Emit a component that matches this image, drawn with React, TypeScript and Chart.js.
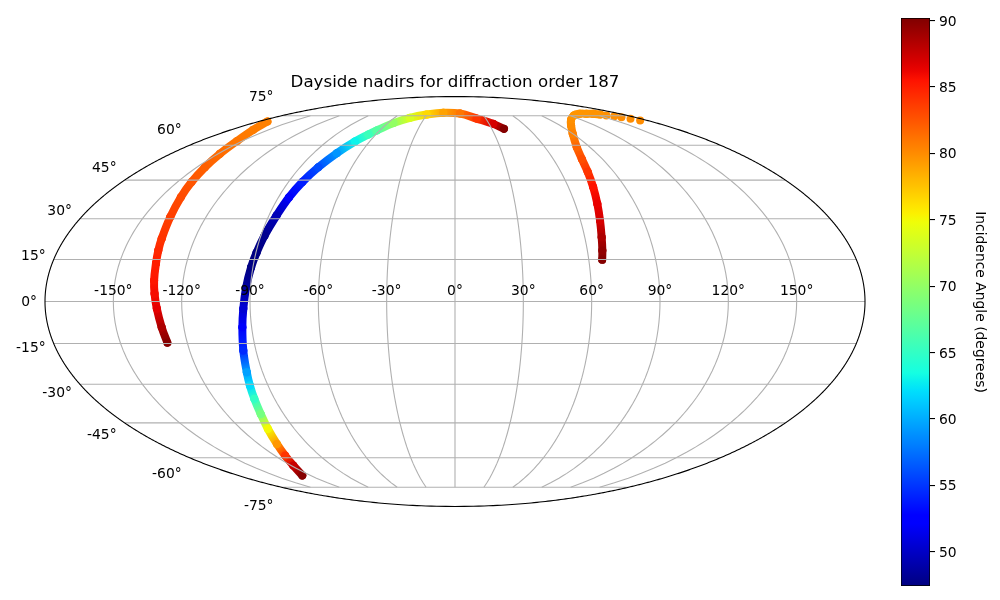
import React, { useEffect, useRef } from "react";
import { Chart, registerables } from "chart.js";

Chart.register(...registerables);

const trackALon = [-128.9,-129.8,-131.0,-132.0,-132.8,-133.6,-134.5,-135.3,-137.2,-139.8,-142.3,-145.3,-148.8,-153.8,-162.1,-172.2];
const trackALat = [-14.7,-9.2,-2.5,2.8,7.5,13.6,18.3,22.6,30.6,38.2,44.2,50.3,56.1,61.9,67.4,71.8];
const trackAAngle = [90,88.5,86.5,85.8,85.3,85,84.5,84,83.5,83,82.5,82,81.5,81,80.7,80.5];

const trackBLon = [-126.8,-118.3,-113.1,-108.7,-104.8,-102.0,-100.1,-98.7,-97.4,-95.7,-94.1,-93.0,-91.9,-90.8,-89.7,-88.3,-86.3,-84.6,-82.5,-79.4,-75.2,-70.2,-65.6,-62.3,-54.9,-44.5,-30.3,-13.1,5.5,21.1,33.7,39.9];
const trackBLat = [-68.6,-63.6,-59.0,-53.8,-47.4,-41.4,-35.5,-30.4,-25.5,-17.5,-9.2,-2.6,5.1,12.2,17.5,23.7,31.2,38.2,44.2,50.3,56.4,61.7,65.1,67.1,70.9,73.8,75.7,76.8,76.3,73.4,70.5,67.9];
const trackBAngle = [90,87.5,84,79.5,75,68.5,65,62,59.5,54.5,52,50.5,48.5,47.6,47.5,48,49.5,52,54,56,59,63,65.5,66.8,70,73.5,76.5,79,81,84,87,90];

const trackCLon = [66.0,66.8,67.8,69.3,71.1,73.1,75.2,77.5,81.2,89.8,99.3,110.0,124.3,136.5,143.8,151.0,155.4];
const trackCLat = [14.9,18.3,23.1,29.3,35.7,42.2,48.4,53.9,59.1,65.4,69.6,72.7,75.2,76.2,76.2,76.2,75.7];
const trackCAngle = [90,89.5,88.5,87,86.3,85.5,84,82.8,81.8,80.5,80,79.8,79.6,79.6,79.6,79.7,79.7];

const tailLon = [158.4,163.2,167.1,170.1,173.0];
const tailLat = [75.2,74.7,74.2,73.3,72.3];
const tailAngle = [79.8,79.9,80,80,80];

const longitudeTicks = [-150,-120,-90,-60,-30,0,30,60,90,120,150];
const latitudeTicks = [-75,-60,-45,-30,-15,0,15,30,45,60,75];
const colorbarTicks = [50,55,60,65,70,75,80,85,90];

const TITLE = "Dayside nadirs for diffraction order 187";
const CBAR_LABEL = "Incidence Angle (degrees)";
const ANGLE_MIN = 47.42;
const ANGLE_MAX = 90.19;
const FONT = '"DejaVu Sans"';
const GRID = "#b0b0b0";

const R2 = Math.SQRT2;
function project(lonDeg: number, latDeg: number) {
  const lat = (latDeg * Math.PI) / 180;
  let th = lat;
  const target = Math.PI * Math.sin(lat);
  if (Math.abs(Math.abs(latDeg) - 90) > 1e-6) {
    for (let i = 0; i < 80; i++) {
      const d = (2 * th + Math.sin(2 * th) - target) / (2 + 2 * Math.cos(2 * th));
      th -= d;
      if (Math.abs(d) < 1e-9) break;
    }
  } else th = Math.sign(latDeg) * Math.PI / 2;
  return { x: ((2 * R2) / Math.PI) * ((lonDeg * Math.PI) / 180) * Math.cos(th), y: R2 * Math.sin(th) };
}

function lerp(stops: number[][], t: number) {
  for (let i = 1; i < stops.length; i++) {
    if (t <= stops[i][0]) {
      const [a, va] = stops[i - 1];
      const [b, vb] = stops[i];
      return va + ((vb - va) * (t - a)) / (b - a);
    }
  }
  return stops[stops.length - 1][1];
}
const jetR = [[0,0],[0.35,0],[0.66,1],[0.89,1],[1,0.5]];
const jetG = [[0,0],[0.125,0],[0.375,1],[0.64,1],[0.91,0],[1,0]];
const jetB = [[0,0.5],[0.11,1],[0.34,1],[0.65,0],[1,0]];
function jet(t: number) {
  const c = Math.max(0, Math.min(1, t));
  return `rgb(${Math.round(lerp(jetR, c) * 255)},${Math.round(lerp(jetG, c) * 255)},${Math.round(lerp(jetB, c) * 255)})`;
}
const angleColor = (a: number) => jet((a - ANGLE_MIN) / (ANGLE_MAX - ANGLE_MIN));

function trackDataset(lons: number[], lats: number[], angles: number[], connect: boolean) {
  return {
    data: lons.map((lon, i) => ({ ...project(lon, lats[i]), angle: angles[i] })),
    showLine: connect,
    tension: 0.4,
    borderWidth: 8,
    borderCapStyle: "round",
    borderJoinStyle: "round",
    borderColor: angleColor(angles[0]),
    pointRadius: 4,
    pointHoverRadius: 4,
    pointBorderWidth: 0,
    pointBackgroundColor: angles.map(angleColor),
    order: 2,
    segment: {
      borderColor: (ctx: any) => {
        const g = ctx.chart.ctx.createLinearGradient(ctx.p0.x, ctx.p0.y, ctx.p1.x, ctx.p1.y);
        g.addColorStop(0, angleColor(angles[ctx.p0DataIndex]));
        g.addColorStop(1, angleColor(angles[ctx.p1DataIndex]));
        return g;
      },
    },
  };
}

function lineDataset(points: { x: number; y: number }[], color: string, order: number) {
  return {
    data: points,
    showLine: true,
    borderColor: color,
    borderWidth: 1.1,
    pointRadius: 0,
    pointHoverRadius: 0,
    order,
    tension: 0.001,
    clip: false,
  };
}

function sample(from: number, to: number, steps: number) {
  const out: number[] = [];
  for (let i = 0; i <= steps; i++) out.push(from + ((to - from) * i) / steps);
  return out;
}

const tickLabelPlugin = {
  id: "geoLabels",
  afterDraw(chart: any) {
    const { ctx, scales } = chart;
    ctx.save();
    ctx.fillStyle = "#000";
    ctx.font = `13.89px ${FONT}`;
    ctx.textAlign = "center";
    ctx.textBaseline = "alphabetic";
    for (const lon of longitudeTicks) {
      const p = project(lon, 0);
      ctx.fillText(`${lon}°`, scales.x.getPixelForValue(p.x), scales.y.getPixelForValue(0) - 7);
    }
    ctx.textAlign = "right";
    ctx.textBaseline = "middle";
    for (const lat of latitudeTicks) {
      const p = project(-180, lat);
      ctx.fillText(`${lat}°`, scales.x.getPixelForValue(p.x) - 8, scales.y.getPixelForValue(p.y * 1.1) + 0.7);
    }
    ctx.restore();
  },
};

export default function App() {
  const mapRef = useRef<HTMLCanvasElement>(null);
  const barRef = useRef<HTMLCanvasElement>(null);

  useEffect(() => {
    const gridSets: any[] = [];
    for (const lat of latitudeTicks) {
      gridSets.push(lineDataset([project(-180, lat), project(180, lat)], GRID, 1));
    }
    for (const lon of longitudeTicks) {
      gridSets.push(lineDataset(sample(-75, 75, 60).map((lat) => project(lon, lat)), GRID, 1));
    }
    const frame = sample(-90, 90, 360).map((lat) => project(-180, lat))
      .concat(sample(90, -90, 360).map((lat) => project(180, lat)));

    const map = new Chart(mapRef.current!, {
      type: "scatter",
      data: {
        datasets: [
          trackDataset(trackALon, trackALat, trackAAngle, true),
          trackDataset(trackBLon, trackBLat, trackBAngle, true),
          trackDataset(trackCLon, trackCLat, trackCAngle, true),
          trackDataset(tailLon, tailLat, tailAngle, false),
          ...gridSets,
          lineDataset(frame, "#000", 0),
        ] as any,
      },
      options: {
        animation: false,
        responsive: false,
        layout: { padding: { top: 73, bottom: 93.5, left: 45, right: 45 } },
        scales: {
          x: { type: "linear", display: false, min: -2 * R2, max: 2 * R2 },
          y: { type: "linear", display: false, min: -R2, max: R2 },
        },
        plugins: {
          legend: { display: false },
          tooltip: { enabled: false },
          title: {
            display: true,
            text: TITLE,
            color: "#000",
            font: { family: FONT, size: 16.67, weight: "normal", lineHeight: 1.2 },
            padding: { top: 0, bottom: 3.5 },
          },
        },
      } as any,
      plugins: [tickLabelPlugin],
    });

    const bar = new Chart(barRef.current!, {
      type: "bar",
      data: {
        labels: [""],
        datasets: [
          {
            data: [[ANGLE_MIN, ANGLE_MAX]],
            borderColor: "#000",
            borderWidth: 1,
            borderSkipped: false,
            barPercentage: 1,
            categoryPercentage: 1,
            backgroundColor: (ctx: any) => {
              const area = ctx.chart.chartArea;
              if (!area) return "#000";
              const g = ctx.chart.ctx.createLinearGradient(0, area.bottom, 0, area.top);
              for (let i = 0; i <= 64; i++) g.addColorStop(i / 64, jet(i / 64));
              return g;
            },
          } as any,
        ],
      },
      options: {
        animation: false,
        responsive: false,
        layout: { padding: { top: 18, bottom: 14, left: 11, right: 0 } },
        scales: {
          x: { display: false },
          y: {
            position: "right",
            min: ANGLE_MIN,
            max: ANGLE_MAX,
            afterFit: (s: any) => { s.width = 70; },
            afterBuildTicks: (s: any) => { s.ticks = colorbarTicks.map((value) => ({ value })); },
            border: { display: false },
            grid: { drawOnChartArea: false, color: "#000", tickColor: "#000", tickLength: 5, lineWidth: 1.1, tickWidth: 1.1 },
            ticks: { color: "#000", font: { family: FONT, size: 13.89 }, padding: 4, autoSkip: false, labelOffset: 1.5 },
            title: {
              display: true,
              text: CBAR_LABEL,
              color: "#000",
              font: { family: FONT, size: 13.89 },
              padding: { top: 12, bottom: 0 },
            },
          },
        },
        plugins: { legend: { display: false }, tooltip: { enabled: false } },
      } as any,
    });

    return () => {
      map.destroy();
      bar.destroy();
    };
  }, []);

  return (
    <div style={{ position: "absolute", left: 0, top: 0, width: 1000, height: 600, background: "#fff", overflow: "hidden" }}>
      <canvas ref={mapRef} width={910} height={600} style={{ position: "absolute", left: 0, top: 0 }} />
      <canvas ref={barRef} width={110} height={600} style={{ position: "absolute", left: 890, top: 0 }} />
    </div>
  );
}
